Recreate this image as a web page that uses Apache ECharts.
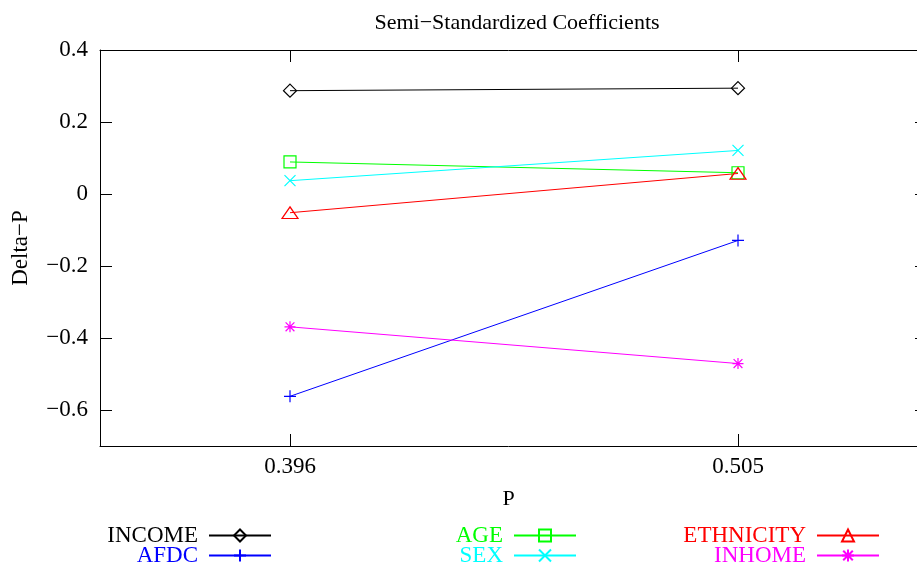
<!DOCTYPE html>
<html>
<head>
<meta charset="utf-8">
<script src="https://cdn.jsdelivr.net/npm/echarts@6/dist/echarts.min.js"></script>
<style>
html,body{margin:0;padding:0;background:#fff;}
#chart{width:917px;height:570px;}
</style>
</head>
<body>
<div id="chart"></div>
<script>
// ---- data ----
const pValues = [0.396, 0.505];
const seriesNames = ['INCOME', 'AFDC', 'AGE', 'SEX', 'ETHNICITY', 'INHOME'];
const income    = [0.287, 0.294];
const afdc      = [-0.562, -0.129];
const age       = [0.089, 0.059];
const sex       = [0.037, 0.121];
const ethnicity = [-0.052, 0.057];
const inhome    = [-0.369, -0.471];
const yTicks = [-0.6, -0.4, -0.2, 0, 0.2, 0.4];

// ---- styling ----
const FONT = '"Liberation Serif", "DejaVu Serif", serif';
const colors = ['#000000', '#0000ff', '#00ff00', '#00ffff', '#ff0000', '#ff00ff'];
const symbols = [
  'path://M5,0L10,5L5,10L0,5Z',
  'path://M0,5L10,5M5,0L5,10',
  'path://M0,0L10,0L10,10L0,10Z',
  'path://M0,0L10,10M10,0L0,10',
  'path://M5,0L10,9L0,9Z',
  'path://M0,5L10,5M5,0L5,10M1,1L9,9M9,1L1,9'
];
const symbolSizes = [[13,13],[12,12],[12,12],[11,11],[16,13],[11,11]];
const dataSets = [income, afdc, age, sex, ethnicity, inhome];

// plot spans 100..917 px; 0.396 sits 190px from left, 0.505 448px further, 179px to right edge
const span = pValues[1] - pValues[0];
const xMin = pValues[0] - span * 190 / 448;
const xMax = pValues[1] + span * 179 / 448;

const series = seriesNames.map((name, i) => ({
  name: name,
  type: 'line',
  xAxisIndex: 0,
  yAxisIndex: 0,
  data: pValues.map((p, j) => [p, dataSets[i][j]]),
  symbol: symbols[i],
  symbolSize: symbolSizes[i],
  symbolKeepAspect: true,
  lineStyle: { color: colors[i], width: 1 },
  itemStyle: { color: 'rgba(0,0,0,0)', borderColor: colors[i], borderWidth: 1.2 },
  emphasis: { disabled: true },
  animation: false,
  z: 3
}));

// legend layout: column right edges and rows
const legendRight = [645, 645, 340, 340, 37, 37];
const legendTop = [524, 544, 524, 544, 524, 544];
const legends = seriesNames.map((name, i) => ({
  data: [{ name: name, textStyle: { color: colors[i] } }],
  right: legendRight[i],
  top: legendTop[i],
  align: 'right',
  itemWidth: 62,
  itemHeight: 15,
  padding: 0,
  selectedMode: false,
  textStyle: { fontFamily: FONT, fontSize: 23, color: colors[i], padding: [0, 6, 0, 0] }
}));

const chart = echarts.init(document.getElementById('chart'), null, { renderer: 'canvas' });
chart.setOption({
  backgroundColor: '#ffffff',
  animation: false,
  title: {
    text: 'Semi\u2212Standardized Coefficients',
    left: 512, top: 7, textAlign: 'center',
    textStyle: { fontFamily: FONT, fontSize: 22, fontWeight: 'normal', color: '#000' }
  },
  legend: legends,
  grid: { left: 100, top: 50, right: 0, bottom: 124, containLabel: false },
  xAxis: [{
    type: 'value', position: 'bottom', min: xMin, max: xMax,
    name: 'P', nameLocation: 'middle', nameGap: 42,
    nameTextStyle: { fontFamily: FONT, fontSize: 22, color: '#000' },
    axisLine: { show: true, onZero: false, lineStyle: { color: '#000', width: 1 } },
    axisTick: { show: true, inside: true, length: 12, lineStyle: { color: '#000' }, customValues: pValues },
    axisLabel: { fontFamily: FONT, fontSize: 23, color: '#000', margin: 9, customValues: pValues,
      formatter: v => v.toFixed(3) },
    splitLine: { show: false }
  }, {
    type: 'value', position: 'top', min: xMin, max: xMax,
    axisLine: { show: true, onZero: false, lineStyle: { color: '#000', width: 1 } },
    axisTick: { show: true, inside: true, length: 12, lineStyle: { color: '#000' }, customValues: pValues },
    axisLabel: { show: false },
    splitLine: { show: false }
  }],
  yAxis: [{
    type: 'value', position: 'left', min: -0.7, max: 0.4, interval: 0.1,
    name: 'Delta\u2212P', nameLocation: 'middle', nameGap: 68, nameRotate: 90,
    nameTextStyle: { fontFamily: FONT, fontSize: 23, color: '#000' },
    axisLine: { show: true, onZero: false, lineStyle: { color: '#000', width: 1 } },
    axisTick: { show: true, inside: true, length: 12, lineStyle: { color: '#000' }, customValues: yTicks },
    axisLabel: { fontFamily: FONT, fontSize: 23, color: '#000', margin: 12, customValues: yTicks,
      formatter: v => { const r = Math.round(v * 10) / 10; return r === 0 ? '0' : (r < 0 ? '\u2212' + Math.abs(r) : String(r)); } },
    splitLine: { show: false }
  }, {
    type: 'value', position: 'right', offset: 10, min: -0.7, max: 0.4, interval: 0.1,
    axisLine: { show: true, onZero: false, lineStyle: { color: '#000', width: 1 } },
    axisTick: { show: true, inside: true, length: 12, lineStyle: { color: '#000' }, customValues: yTicks },
    axisLabel: { show: false },
    splitLine: { show: false }
  }],
  series: series
});
</script>
</body>
</html>
